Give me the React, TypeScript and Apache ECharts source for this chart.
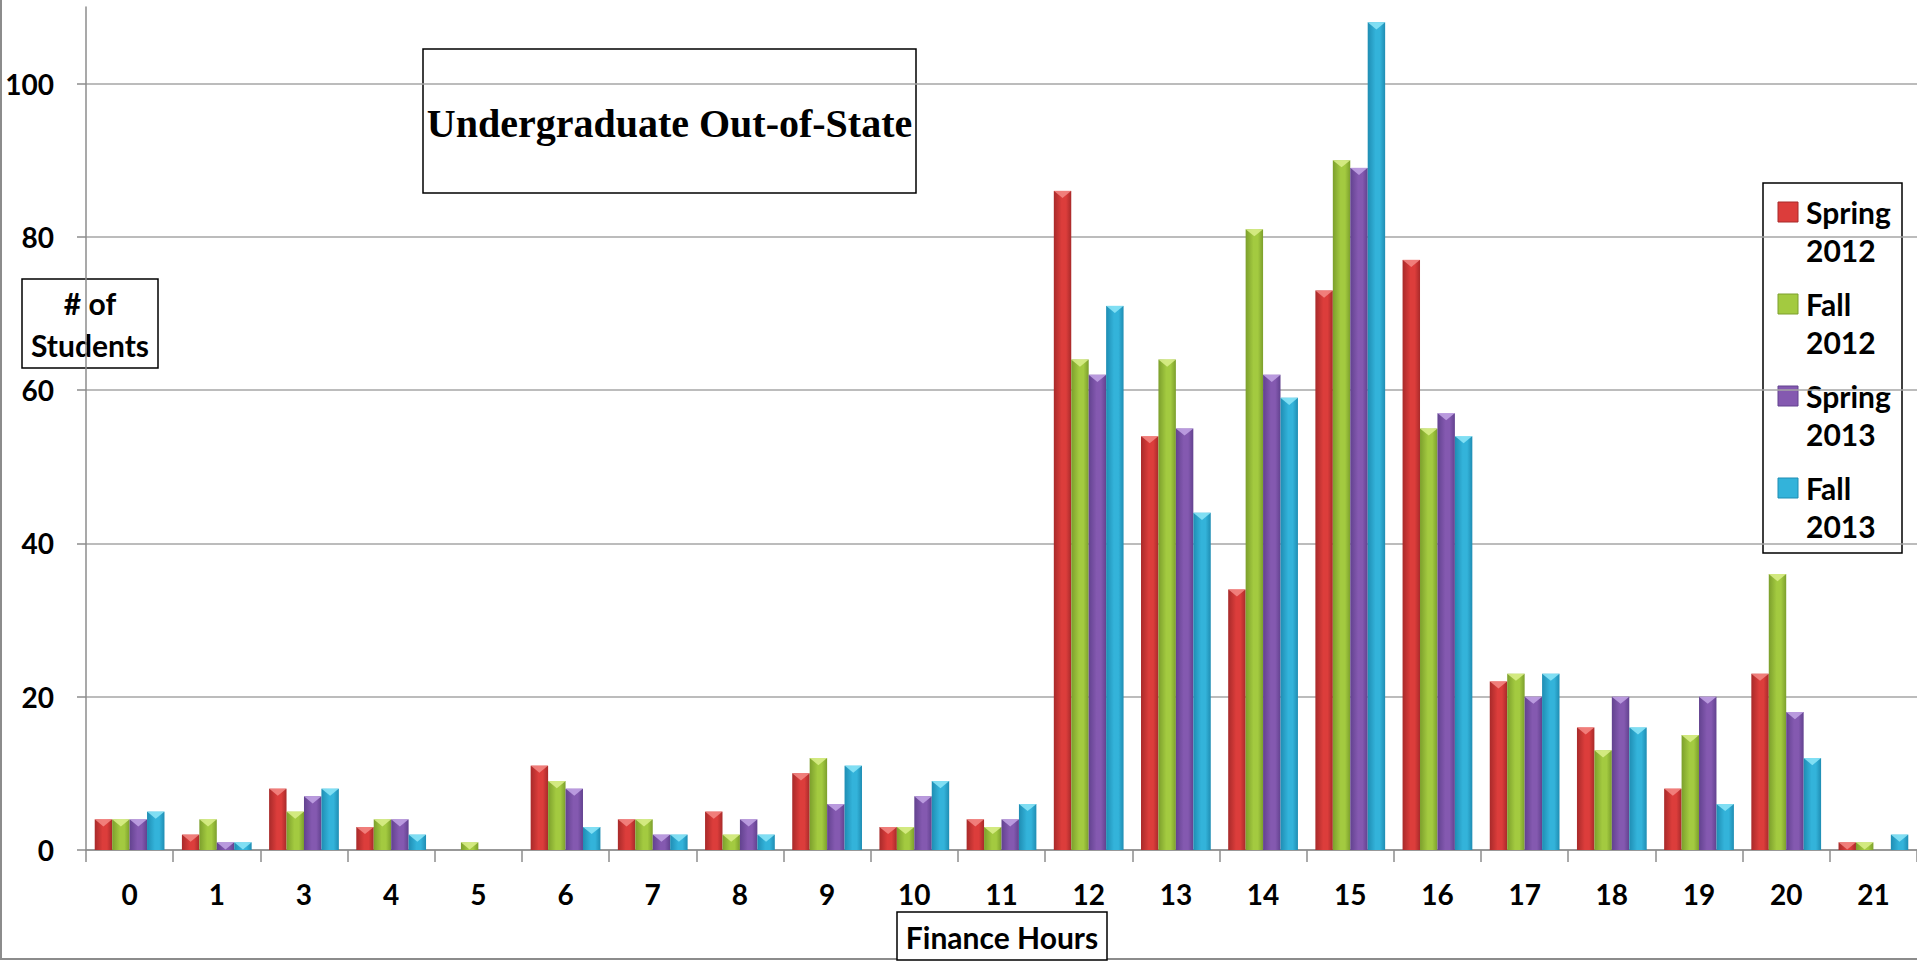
import React, { useEffect, useRef } from "react";
import * as echarts from "echarts";

const categories = ["0", "1", "3", "4", "5", "6", "7", "8", "9", "10", "11", "12", "13", "14", "15", "16", "17", "18", "19", "20", "21"];
const seriesNames = ["Spring 2012", "Fall 2012", "Spring 2013", "Fall 2013"];
const legendLines = [["Spring", "2012"], ["Fall", "2012"], ["Spring", "2013"], ["Fall", "2013"]];
const spring2012 = [4, 2, 8, 3, 0, 11, 4, 5, 10, 3, 4, 86, 54, 34, 73, 77, 22, 16, 8, 23, 1];
const fall2012 = [4, 4, 5, 4, 1, 9, 4, 2, 12, 3, 3, 64, 64, 81, 90, 55, 23, 13, 15, 36, 1];
const spring2013 = [4, 1, 7, 4, 0, 8, 2, 4, 6, 7, 4, 62, 55, 62, 89, 57, 20, 20, 20, 18, 0];
const fall2013 = [5, 1, 8, 2, 0, 3, 2, 2, 11, 9, 6, 71, 44, 59, 108, 54, 23, 16, 6, 12, 2];
const yTickLabels = [0, 20, 40, 60, 80, 100];
const title = "Undergraduate Out-of-State";
const yName = ["# of", "Students"];
const xName = "Finance Hours";

const allSeries = [spring2012, fall2012, spring2013, fall2013];
// [dark edge, light centre, top facet]
const palette = [
  ["#a82a2a", "#dc3d3b", "#f58a86"],
  ["#7c9f2c", "#a3ca40", "#dcf08c"],
  ["#62428f", "#8459b0", "#c3a6e6"],
  ["#1f8db3", "#33b3da", "#8ee6f8"],
];

const FONT = "Lato";

export default function App() {
  const ref = useRef<HTMLDivElement>(null);
  useEffect(() => {
    if (!ref.current) return;
    const chart = echarts.init(ref.current, undefined, { renderer: "svg" });

    const barSeries: any[] = allSeries.map((data, i) => ({
      type: "bar",
      name: seriesNames[i],
      data,
      barGap: "0%",
      barCategoryGap: "20%",
      itemStyle: {
        color: new echarts.graphic.LinearGradient(0, 0, 1, 0, [
          { offset: 0, color: palette[i][0] },
          { offset: 0.45, color: palette[i][1] },
          { offset: 0.7, color: palette[i][1] },
          { offset: 1, color: palette[i][0] },
        ]),
      },
      z: 2,
    }));

    const capSeries: any[] = allSeries.map((data, i) => ({
      type: "pictorialBar",
      name: seriesNames[i] + " top",
      data: data.map((v) => (v > 0 ? v : null)),
      barGap: "0%",
      barCategoryGap: "20%",
      symbol: "path://M0,0 L10,0 L5,6 Z",
      symbolSize: ["100%", 7],
      symbolPosition: "end",
      itemStyle: { color: palette[i][2], opacity: 0.85 },
      silent: true,
      z: 3,
    }));

    const legendChildren: any[] = [
      {
        type: "rect",
        shape: { x: 1763, y: 183, width: 139, height: 370 },
        style: { fill: "#fff", stroke: "#000", lineWidth: 1.5 },
      },
    ];
    legendLines.forEach((lines, i) => {
      const y0 = 212 + i * 92;
      legendChildren.push({
        type: "rect",
        shape: { x: 1778, y: y0 - 10, width: 20, height: 20 },
        style: { fill: palette[i][1], stroke: palette[i][0], lineWidth: 1 },
      });
      legendChildren.push({
        type: "text",
        x: 1806,
        y: y0,
        style: {
          text: lines[0],
          font: `bold 30px ${FONT}`,
          fill: "#000",
          verticalAlign: "middle",
        },
      });
      legendChildren.push({
        type: "text",
        x: 1806,
        y: y0 + 38,
        style: {
          text: lines[1],
          font: `bold 30px ${FONT}`,
          fill: "#000",
          verticalAlign: "middle",
        },
      });
    });

    chart.setOption({
      animation: false,
      backgroundColor: "#ffffff",
      grid: { left: 86, right: 0, top: 7, bottom: 111, containLabel: false },
      xAxis: {
        type: "category",
        data: categories,
        axisLine: { lineStyle: { color: "#8c8c8c", width: 1.5 } },
        axisTick: { show: true, alignWithLabel: false, length: 12, lineStyle: { color: "#8c8c8c", width: 1.5 } },
        axisLabel: { color: "#000", fontFamily: FONT, fontWeight: "bold", fontSize: 28, margin: 30 },
        splitLine: { show: false },
      },
      yAxis: {
        type: "value",
        min: 0,
        max: 110,
        interval: 10,
        axisLine: { show: true, lineStyle: { color: "#8c8c8c", width: 1.5 } },
        axisTick: {
          show: true,
          length: 9,
          customValues: yTickLabels,
          lineStyle: { color: "#8c8c8c", width: 1.5 },
        },
        axisLabel: {
          customValues: yTickLabels,
          color: "#000",
          fontFamily: FONT,
          fontWeight: "bold",
          fontSize: 28,
          margin: 32,
        },
        splitLine: { show: true, lineStyle: { color: "#a6a6a6", width: 1.5 } },
      },
      series: [...barSeries, ...capSeries],
      graphic: [
        {
          type: "group",
          z: 100,
          children: [
            // outer chart border (left and bottom)
            { type: "line", shape: { x1: 1, y1: 0, x2: 1, y2: 960 }, style: { stroke: "#8c8c8c", lineWidth: 2 } },
            { type: "line", shape: { x1: 0, y1: 959, x2: 1917, y2: 959 }, style: { stroke: "#8c8c8c", lineWidth: 2 } },
            // title box
            {
              type: "rect",
              shape: { x: 423, y: 49, width: 493, height: 144 },
              style: { fill: "#fff", stroke: "#000", lineWidth: 1.5 },
            },
            {
              type: "text",
              x: 669.5,
              y: 123,
              style: {
                text: title,
                font: "bold 40px 'Liberation Serif'",
                fill: "#000",
                align: "center",
                verticalAlign: "middle",
              },
            },
            // y name box
            {
              type: "rect",
              shape: { x: 22, y: 279, width: 136, height: 89 },
              style: { fill: "#fff", stroke: "#000", lineWidth: 1.5 },
            },
            {
              type: "text",
              x: 90,
              y: 303,
              style: { text: yName[0], font: `bold 30px ${FONT}`, fill: "#000", align: "center", verticalAlign: "middle" },
            },
            {
              type: "text",
              x: 90,
              y: 345,
              style: { text: yName[1], font: `bold 30px ${FONT}`, fill: "#000", align: "center", verticalAlign: "middle" },
            },
            // x name box
            {
              type: "rect",
              shape: { x: 897, y: 912, width: 210, height: 48 },
              style: { fill: "#fff", stroke: "#000", lineWidth: 1.5 },
            },
            {
              type: "text",
              x: 1002,
              y: 937,
              style: { text: xName, font: `bold 30px ${FONT}`, fill: "#000", align: "center", verticalAlign: "middle" },
            },
            ...legendChildren,
          ],
        },
      ],
    });
    return () => chart.dispose();
  }, []);
  return <div ref={ref} style={{ position: "absolute", left: 0, top: 0, width: 1917, height: 961 }} />;
}
